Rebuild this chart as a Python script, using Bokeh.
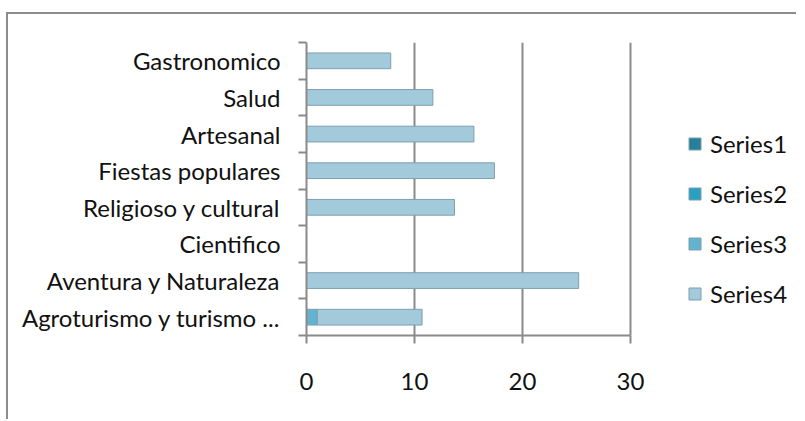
from bokeh.plotting import figure
from bokeh.models import ColumnDataSource, Range1d, FixedTicker, Legend
from bokeh.embed import file_html
from bokeh.resources import INLINE

categories = ["Agroturismo y turismo ...", "Aventura y Naturaleza", "Cientifico",
              "Religioso y cultural", "Fiestas populares", "Artesanal", "Salud", "Gastronomico"]
series_names = ["Series1", "Series2", "Series3", "Series4"]
series1 = [0, 0, 0, 0, 0, 0, 0, 0]
series2 = [0, 0, 0, 0, 0, 0, 0, 0]
series3 = [1.0, 0, 0, 0, 0, 0, 0, 0]
series4 = [9.7, 25.2, 0, 13.7, 17.4, 15.5, 11.7, 7.8]
x_ticks = [0, 10, 20, 30]
colors = ["#277f9a", "#2a9fc0", "#63b2cf", "#a2cadb"]

ypos = [i + 0.5 for i in range(len(categories))]
source = ColumnDataSource(dict(y=ypos, Series1=series1, Series2=series2,
                               Series3=series3, Series4=series4))

FONT = "Lato"
GRAY = "#8a8a8a"
FS = "24px"

W, H = 790, 407
BL, BR, BT, BB = 298, 5, 28, 86
frame_w = W - BL - BR
axis_max = x_ticks[-1]
x_end = axis_max * frame_w / 324.0   # axis part of the frame is 324 px wide; rest holds the legend

p = figure(width=W, height=H, output_backend="svg", toolbar_location=None,
           x_range=Range1d(0, x_end), y_range=Range1d(0, len(categories)),
           min_border_left=BL, min_border_right=BR, min_border_top=BT, min_border_bottom=BB)
p.margin = (12, 0, 0, 6)
p.styles = {"border-top": "2px solid #8c8c8c", "border-left": "2px solid #8c8c8c"}
p.outline_line_color = None

renderers = p.hbar_stack(series_names, y="y", height=0.43, source=source,
                         fill_color=colors, line_color="#7d9fae", line_width=1)

# axes
p.xaxis.ticker = FixedTicker(ticks=x_ticks)
p.xaxis.bounds = (0, axis_max)
p.xaxis.axis_line_color = GRAY
p.xaxis.axis_line_width = 2
p.xaxis.major_tick_line_color = GRAY
p.xaxis.major_tick_line_width = 2
p.xaxis.major_tick_out = 8
p.xaxis.major_tick_in = 0
p.xaxis.minor_tick_line_color = None
p.xaxis.major_label_standoff = 29
p.xaxis.major_label_text_font = FONT
p.xaxis.major_label_text_font_size = FS
p.xaxis.major_label_text_color = "#111111"

p.yaxis.ticker = FixedTicker(ticks=ypos, minor_ticks=list(range(len(categories) + 1)))
p.yaxis.major_label_overrides = {y: c for y, c in zip(ypos, categories)}
p.yaxis.axis_line_color = GRAY
p.yaxis.axis_line_width = 2
p.yaxis.major_tick_line_color = None
p.yaxis.major_tick_out = 0
p.yaxis.major_tick_in = 0
p.yaxis.minor_tick_line_color = GRAY
p.yaxis.minor_tick_line_width = 2
p.yaxis.minor_tick_out = 8
p.yaxis.minor_tick_in = 0
p.yaxis.major_label_standoff = 18
p.yaxis.major_label_text_font = FONT
p.yaxis.major_label_text_font_size = FS
p.yaxis.major_label_text_color = "#111111"

p.xgrid.ticker = FixedTicker(ticks=x_ticks[1:])
p.xgrid.grid_line_color = GRAY
p.xgrid.grid_line_width = 2
p.ygrid.grid_line_color = None

legend = Legend(items=[(n, [r]) for n, r in zip(series_names, renderers)],
                location=(381, 27), orientation="vertical")
legend.glyph_width = 15
legend.glyph_height = 15
legend.label_standoff = 8
legend.spacing = 21
legend.padding = 0
legend.margin = 0
legend.border_line_color = None
legend.background_fill_alpha = 0
legend.label_text_font = FONT
legend.label_text_font_size = FS
legend.label_text_color = "#111111"
p.add_layout(legend, "center")

open("out.html", "w").write(file_html(p, INLINE))
